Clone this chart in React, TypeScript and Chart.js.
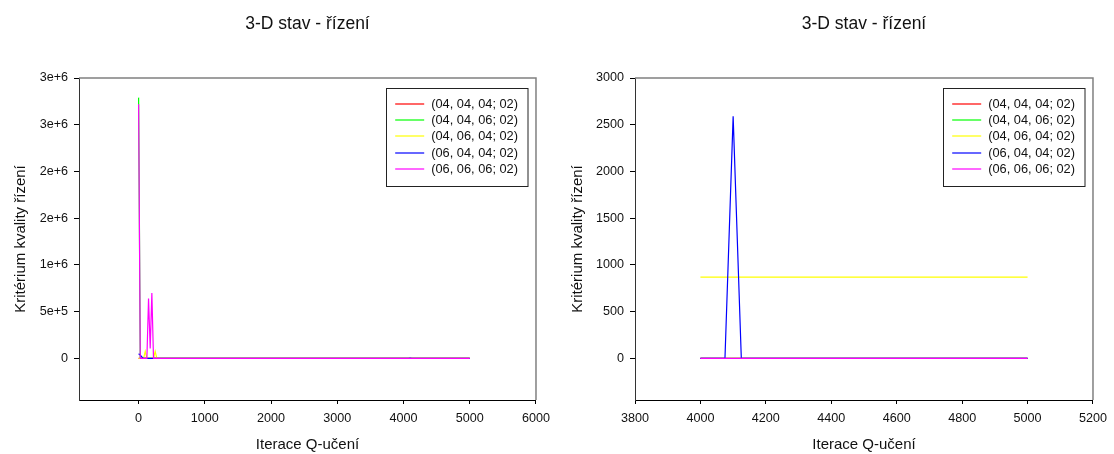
import React, { useEffect, useRef } from "react";
import { Chart, registerables } from "chart.js";

Chart.register(...registerables);

// ---------- text ----------
const chartTitle = "3-D stav - řízení";
const xAxisTitle = "Iterace Q-učení";
const yAxisTitle = "Kritérium kvality řízení";

// ---------- series ----------
const seriesLabels = [
  "(04, 04, 04; 02)",
  "(04, 04, 06; 02)",
  "(04, 06, 04; 02)",
  "(06, 04, 04; 02)",
  "(06, 06, 06; 02)",
];
const seriesColors = ["#ff0000", "#00ff00", "#ffff00", "#0000ff", "#ff00ff"];

const redIter = [0, 25, 4000, 5000];
const redVal = [0, 0, 0, 0];

const greenIter = [0, 25, 4000, 5000];
const greenVal = [2790000, 0, 0, 0];

const yellowIter = [0, 75, 100, 125, 225, 250, 275, 4000, 5000];
const yellowVal = [0, 0, 75000, 0, 0, 75000, 870, 870, 870];

const blueIter = [0, 25, 50, 75, 4000, 4075, 4100, 4125, 5000];
const blueVal = [50000, 35000, 15000, 0, 0, 0, 2590, 0, 0];

const magentaIter = [0, 25, 125, 150, 175, 200, 225, 4000, 5000];
const magentaVal = [2720000, 0, 0, 641000, 107000, 700000, 0, 0, 0];

const seriesIters = [redIter, greenIter, yellowIter, blueIter, magentaIter];
const seriesVals = [redVal, greenVal, yellowVal, blueVal, magentaVal];

// ---------- ticks ----------
const leftXTicks = [0, 1000, 2000, 3000, 4000, 5000, 6000];
const leftYTicks = [0, 500000, 1000000, 1500000, 2000000, 2500000, 3000000];
const leftYTickLabels = ["0", "5e+5", "1e+6", "2e+6", "2e+6", "3e+6", "3e+6"];
const rightXTicks = [3800, 4000, 4200, 4400, 4600, 4800, 5000, 5200];
const rightYTicks = [0, 500, 1000, 1500, 2000, 2500, 3000];
const rightYTickLabels = ["0", "500", "1000", "1500", "2000", "2500", "3000"];

const FONT = "'Liberation Sans', Arial, Helvetica, sans-serif";

const decorPlugin = {
  id: "decor",
  afterDraw(chart: any) {
    const { ctx, chartArea } = chart;
    const { left, right, top, bottom } = chartArea;
    ctx.save();
    // frame top & right
    ctx.strokeStyle = "#808080";
    ctx.lineWidth = 1.5;
    ctx.beginPath();
    ctx.moveTo(left, top);
    ctx.lineTo(right, top);
    ctx.lineTo(right, bottom);
    ctx.stroke();
    // title
    ctx.fillStyle = "#111";
    ctx.font = `17.5px ${FONT}`;
    ctx.textAlign = "center";
    ctx.textBaseline = "alphabetic";
    ctx.fillText(chartTitle, (left + right) / 2, 29);
    // legend box
    const bw = 141.5;
    const bh = 98;
    const bx = right - 8.3 - bw;
    const by = top + 9.5;
    ctx.fillStyle = "#ffffff";
    ctx.fillRect(bx, by, bw, bh);
    ctx.strokeStyle = "#222";
    ctx.lineWidth = 1;
    ctx.strokeRect(Math.round(bx) + 0.5, Math.round(by) + 0.5, bw, bh);
    ctx.font = `12.8px ${FONT}`;
    ctx.textAlign = "left";
    ctx.textBaseline = "middle";
    seriesLabels.forEach((lab, i) => {
      const y = Math.round(by + 16 + i * 16.4);
      ctx.strokeStyle = seriesColors[i];
      ctx.globalAlpha = 0.75;
      ctx.lineWidth = 1.6;
      ctx.beginPath();
      ctx.moveTo(bx + 9, y);
      ctx.lineTo(bx + 38, y);
      ctx.stroke();
      ctx.globalAlpha = 1;
      ctx.fillStyle = "#111";
      ctx.fillText(lab, bx + 45, y + 0.5);
    });
    ctx.restore();
  },
};

function buildConfig(side: "left" | "right") {
  const isLeft = side === "left";
  const minIter = isLeft ? -Infinity : 4000;
  const datasets = seriesLabels.map((label, i) => {
    const pts = seriesIters[i]
      .map((x, k) => ({ x, y: seriesVals[i][k] }))
      .filter((p) => p.x >= minIter);
    return {
      label,
      data: pts,
      borderColor: seriesColors[i],
      backgroundColor: seriesColors[i],
      borderWidth: 1.2,
      pointRadius: 0,
      tension: 0,
      fill: false,
      order: 5 - i,
    };
  });
  const xTicks = isLeft ? leftXTicks : rightXTicks;
  const yTicks = isLeft ? leftYTicks : rightYTicks;
  const yLabels = isLeft ? leftYTickLabels : rightYTickLabels;
  return {
    type: "line",
    data: { datasets },
    plugins: [decorPlugin],
    options: {
      animation: false,
      responsive: false,
      devicePixelRatio: 1,
      layout: { padding: { left: 0, right: isLeft ? 17 : 18, top: 78, bottom: 0 } },
      plugins: { legend: { display: false }, title: { display: false }, tooltip: { enabled: false } },
      scales: {
        x: {
          type: "linear",
          min: isLeft ? -900 : 3800,
          max: isLeft ? 6000 : 5200,
          afterBuildTicks: (s: any) => {
            s.ticks = xTicks.map((v) => ({ value: v }));
          },
          afterFit: (s: any) => {
            s.height = 54;
          },
          grid: { display: true, drawOnChartArea: false, drawTicks: true, tickLength: 4, color: "#000" },
          border: { display: true, color: "#000", width: 1 },
          ticks: {
            color: "#111",
            font: { family: FONT, size: 12.6 },
            padding: 7,
            maxRotation: 0,
            callback: (v: any) => String(v),
          },
          title: {
            display: true,
            text: xAxisTitle,
            color: "#111",
            font: { family: FONT, size: 15 },
            padding: { top: 0, bottom: 0 },
          },
        },
        y: {
          type: "linear",
          min: isLeft ? -445000 : -445,
          max: isLeft ? 3000000 : 3000,
          afterBuildTicks: (s: any) => {
            s.ticks = yTicks.map((v) => ({ value: v }));
          },
          afterFit: (s: any) => {
            s.width = isLeft ? 79 : 78;
          },
          grid: { display: true, drawOnChartArea: false, drawTicks: true, tickLength: 5, color: "#000" },
          border: { display: true, color: "#333", width: 1 },
          ticks: {
            color: "#111",
            font: { family: FONT, size: 12.6 },
            padding: 6,
            callback: (v: any) => {
              const idx = yTicks.indexOf(v);
              return idx >= 0 ? yLabels[idx] : "";
            },
          },
          title: {
            display: true,
            text: yAxisTitle,
            color: "#111",
            font: { family: FONT, size: 15 },
            padding: { top: 12, bottom: 0 },
          },
        },
      },
    },
  };
}

function ChartPanel({ side, left }: { side: "left" | "right"; left: number }) {
  const ref = useRef<HTMLCanvasElement | null>(null);
  useEffect(() => {
    if (!ref.current) return;
    const chart = new Chart(ref.current, buildConfig(side) as any);
    return () => chart.destroy();
  }, [side]);
  return (
    <div style={{ position: "absolute", left, top: 0, width: 557, height: 454 }}>
      <canvas ref={ref} width={557} height={454} style={{ width: 557, height: 454, display: "block" }} />
    </div>
  );
}

export default function App() {
  return (
    <div style={{ position: "fixed", left: 0, top: 0, width: 1114, height: 454, background: "#fff" }}>
      <ChartPanel side="left" left={0} />
      <ChartPanel side="right" left={557} />
    </div>
  );
}
